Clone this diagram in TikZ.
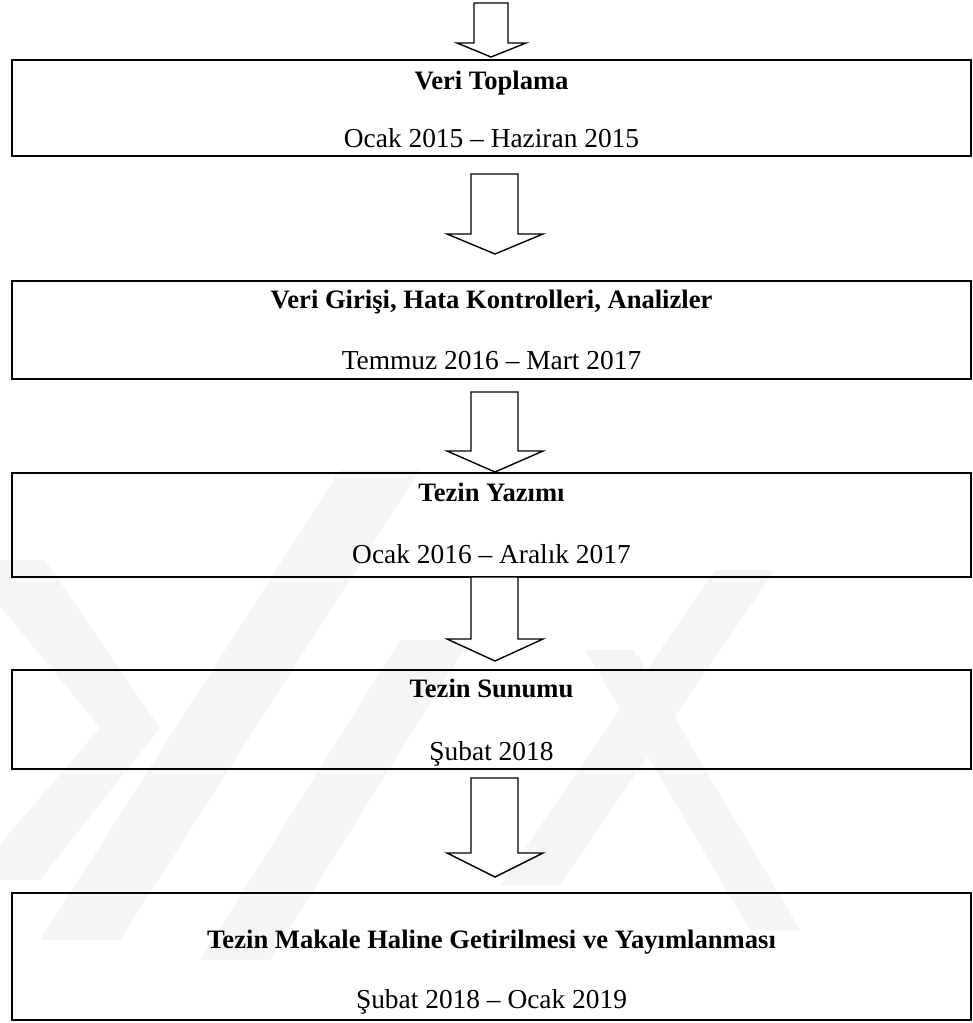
\documentclass[tikz,border=0pt]{standalone}
\usepackage{fontspec}
\setmainfont{Liberation Serif}
\begin{document}
\begin{tikzpicture}[x=1pt,y=-1pt,
  box/.style={draw=black,line width=2.6pt,rectangle,inner sep=0pt,minimum width=959pt},
  title/.style={anchor=base,font=\fontsize{26.6}{30}\selectfont\bfseries},
  date/.style={anchor=base,font=\fontsize{27.4}{30}\selectfont},
  blockarrow/.style={draw=black,line width=1.4pt,line join=miter,fill=white},
  wm/.style={draw=none,fill=black!4}]
\useasboundingbox (0,0) rectangle (973,1023);
% watermark (faint)
\fill[wm] (-5,560) -- (45,560) -- (160,728) -- (40,880) -- (-5,880) -- (-5,850) -- (100,728) -- (-5,600) -- cycle;
\fill[wm] (40,940) -- (120,940) -- (420,470) -- (340,470) -- cycle;
\fill[wm] (200,960) -- (270,960) -- (470,640) -- (400,640) -- cycle;
\fill[wm] (500,885) -- (560,885) -- (775,570) -- (715,570) -- cycle;
\fill[wm] (585,650) -- (635,650) -- (800,930) -- (750,930) -- cycle;
% boxes
\node[box,minimum height=96pt]  (b1) at (491.5,108) {};
\node[box,minimum height=98pt]  (b2) at (491.5,330) {};
\node[box,minimum height=104pt] (b3) at (491.5,525) {};
\node[box,minimum height=99pt]  (b4) at (491.5,719.5) {};
\node[box,minimum height=127pt] (b5) at (491.5,956.5) {};
% texts
\node[title] (t1) at (491.5,89) {Veri Toplama};
\node[date]  (d1) at (491.5,147) {Ocak 2015 – Haziran 2015};
\node[title] (t2) at (491.5,308) {Veri Girişi, Hata Kontrolleri, Analizler};
\node[date]  (d2) at (491.5,369) {Temmuz 2016 – Mart 2017};
\node[title] (t3) at (491.5,501) {Tezin Yazımı};
\node[date]  (d3) at (491.5,563) {Ocak 2016 – Aralık 2017};
\node[title] (t4) at (491.5,697) {Tezin Sunumu};
\node[date]  (d4) at (491.5,760) {Şubat 2018};
\node[title] (t5) at (491.5,948) {Tezin Makale Haline Getirilmesi ve Yayımlanması};
\node[date]  (d5) at (491.5,1008) {Şubat 2018 – Ocak 2019};
% block arrows
\draw[blockarrow] (474,3) -- (508,3) -- (508,43) -- (526,43) -- (491,57) -- (457,43) -- (474,43) -- cycle;
\draw[blockarrow] (471,174) -- (518,174) -- (518,234) -- (543,234) -- (495,254) -- (447,234) -- (471,234) -- cycle;
\draw[blockarrow] (471,392) -- (518,392) -- (518,451) -- (543,451) -- (495,472) -- (447,451) -- (471,451) -- cycle;
\draw[blockarrow] (471,577) -- (518,577) -- (518,639) -- (543,639) -- (495,661) -- (447,639) -- (471,639) -- cycle;
\draw[blockarrow] (471,778) -- (518,778) -- (518,853) -- (543,853) -- (495,877) -- (447,853) -- (471,853) -- cycle;
\end{tikzpicture}
\end{document}
